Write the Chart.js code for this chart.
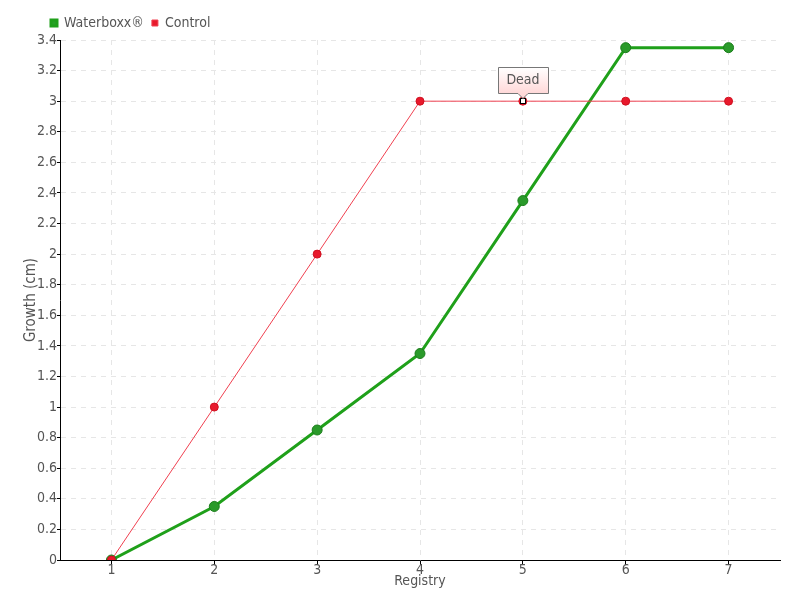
<!DOCTYPE html>
<html>
<head>
<meta charset="utf-8">
<script src="https://cdn.jsdelivr.net/npm/chart.js@4/dist/chart.umd.min.js"></script>
<style>
    html, body { margin: 0; padding: 0; background: #fff; }
    #wrap { width: 800px; height: 600px; }
</style>
</head>
<body>
<div id="wrap"><canvas id="growthChart" width="800" height="600"></canvas></div>
<script>
const registries = ['1', '2', '3', '4', '5', '6', '7'];
const waterboxxGrowth = [0, 0.35, 0.85, 1.35, 2.35, 3.35, 3.35];
const controlGrowth = [0, 1, 2, 3, 3, 3, 3];
const yTicks = [0, 0.2, 0.4, 0.6, 0.8, 1, 1.2, 1.4, 1.6, 1.8, 2, 2.2, 2.4, 2.6, 2.8, 3, 3.2, 3.4];
const deadIndex = 4;
const deadLabel = 'Dead';

const FONT = "'DejaVu Sans Condensed', 'DejaVu Sans', sans-serif";
const TEXT = '#555';

// legend sits a bit right of the canvas edge in the original
const legendShift = {
    id: 'legendShift',
    afterLayout(chart) {
        chart.legend.left += 43;
        chart.legend.right += 43;
    }
};

// callout box over the control point where the plant died
const deadMarker = {
    id: 'deadMarker',
    afterDatasetsDraw(chart) {
        const meta = chart.getDatasetMeta(1);
        const pt = meta.data[deadIndex];
        if (!pt) return;
        const ctx = chart.ctx;
        const x = Math.round(pt.x), y = Math.round(pt.y);

        ctx.save();
        // white square inside the red dot
        ctx.fillStyle = '#fff';
        ctx.strokeStyle = '#000';
        ctx.lineWidth = 1;
        ctx.fillRect(x - 2.5, y - 2.5, 5, 5);
        ctx.strokeRect(x - 2.5, y - 2.5, 5, 5);

        // box
        const w = 50, h = 26;
        const bx = x - 25 + 0.5, by = y - 34 + 0.5;
        const grad = ctx.createLinearGradient(0, by, 0, by + h);
        grad.addColorStop(0, '#ffffff');
        grad.addColorStop(1, '#ffd8d8');
        ctx.beginPath();
        ctx.moveTo(bx, by);
        ctx.lineTo(bx + w, by);
        ctx.lineTo(bx + w, by + h);
        ctx.lineTo(x + 5, by + h);
        ctx.lineTo(x, by + h + 5);
        ctx.lineTo(x - 5, by + h);
        ctx.lineTo(bx, by + h);
        ctx.closePath();
        ctx.fillStyle = grad;
        ctx.fill();
        ctx.strokeStyle = '#777';
        ctx.stroke();

        ctx.fillStyle = TEXT;
        ctx.font = '14px ' + FONT;
        ctx.textAlign = 'center';
        ctx.textBaseline = 'middle';
        ctx.fillText(deadLabel, x, by + h / 2);
        ctx.restore();
    }
};

new Chart(document.getElementById('growthChart').getContext('2d'), {
    type: 'line',
    data: {
        labels: registries,
        datasets: [
            {
                label: 'Waterboxx®',
                data: waterboxxGrowth,
                borderColor: '#1fa01a',
                borderWidth: 3,
                backgroundColor: '#27a027',
                pointBackgroundColor: '#2a9a2a',
                pointBorderColor: '#1b7d1b',
                pointBorderWidth: 1,
                pointRadius: 5,
                tension: 0,
                order: 1
            },
            {
                label: 'Control',
                data: controlGrowth,
                borderColor: '#f04050',
                borderWidth: 1,
                backgroundColor: '#e8192c',
                pointBackgroundColor: '#e8192c',
                pointBorderColor: '#d01020',
                pointBorderWidth: 1,
                pointRadius: 4,
                tension: 0,
                order: 0
            }
        ]
    },
    options: {
        responsive: false,
        animation: false,
        layout: { padding: { left: 0, right: 20, top: 8, bottom: 0 } },
        plugins: {
            tooltip: { enabled: false },
            legend: {
                align: 'start',
                labels: {
                    color: TEXT,
                    font: { family: FONT, size: 14 },
                    boxWidth: 6,
                    boxHeight: 6,
                    padding: 8,
                    sort: (a, b) => a.datasetIndex - b.datasetIndex
                }
            }
        },
        scales: {
            x: {
                offset: true,
                grid: {
                    offset: false,
                    color: '#e6e6e6',
                    tickColor: '#000',
                    tickLength: 5,
                    tickBorderDash: []
                },
                border: { color: '#000', width: 1, dash: [5, 5] },
                ticks: { color: TEXT, font: { family: FONT, size: 14 }, padding: -3 },
                title: {
                    display: true,
                    text: 'Registry',
                    color: TEXT,
                    font: { family: FONT, size: 14 },
                    padding: { top: 0, bottom: 10 }
                },
                afterFit(scale) { scale.height = 40; }
            },
            y: {
                min: 0,
                max: 3.4,
                afterBuildTicks(scale) { scale.ticks = yTicks.map(v => ({ value: v })); },
                grid: {
                    color: '#e6e6e6',
                    tickColor: '#000',
                    tickLength: 3,
                    tickBorderDash: []
                },
                border: { color: '#000', width: 1, dash: [5, 5] },
                ticks: {
                    color: TEXT,
                    font: { family: FONT, size: 14 },
                    padding: 0,
                    callback: v => String(Math.round(v * 10) / 10)
                },
                title: {
                    display: true,
                    text: 'Growth (cm)',
                    color: TEXT,
                    font: { family: FONT, size: 15 },
                    padding: { top: 22, bottom: 0 }
                },
                afterFit(scale) { scale.width = 60; }
            }
        }
    },
    plugins: [deadMarker, legendShift]
});
</script>
</body>
</html>
